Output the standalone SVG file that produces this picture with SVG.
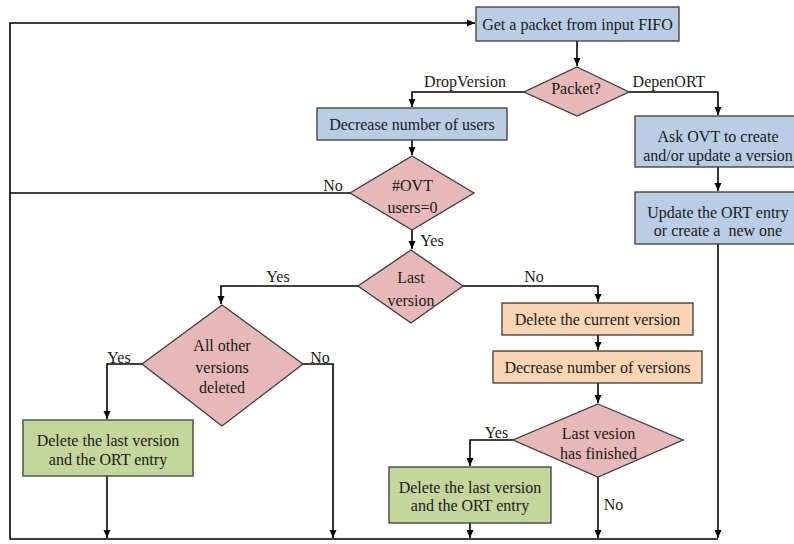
<svg xmlns="http://www.w3.org/2000/svg" width="794" height="544" viewBox="0 0 794 544">
  <style>
    text { font-family: "Liberation Serif", "Times New Roman", serif; font-size: 16px; fill: #1a1a1a; text-anchor: middle; white-space: pre; }
    .box { stroke: #3a3a3a; stroke-width: 1.3; }
    .blue { fill: #b9cde5; }
    .pink { fill: #e6b9b8; }
    .orange { fill: #fcd5b5; }
    .green { fill: #c3d69b; }
    .edge { fill: none; stroke: #000; stroke-width: 1.6; }
    .lbl { fill: #1a1a1a; }
  </style>
  <defs>
    <marker id="arrow" markerUnits="userSpaceOnUse" markerWidth="8" markerHeight="8" refX="8" refY="4" orient="auto">
      <path d="M0,0.5 L8,4 L0,7.5 z" fill="#000"/>
    </marker>
  </defs>
  <rect width="794" height="544" fill="#fff"/>

  <!-- connectors -->
  <g id="connectors">
    <path class="edge" d="M718,539 H10 V23 H475" marker-end="url(#arrow)"/>
    <path class="edge" d="M577,41 V66" marker-end="url(#arrow)"/>
    <path class="edge" d="M524,92 H412 V107" marker-end="url(#arrow)"/>
    <path class="edge" d="M629,92 H718 V115" marker-end="url(#arrow)"/>
    <path class="edge" d="M412,140 V155" marker-end="url(#arrow)"/>
    <path class="edge" d="M350,193 H10"/>
    <path class="edge" d="M412,230 V249" marker-end="url(#arrow)"/>
    <path class="edge" d="M358,286 H221 V304" marker-end="url(#arrow)"/>
    <path class="edge" d="M463,286 H598 V302" marker-end="url(#arrow)"/>
    <path class="edge" d="M142,364 H107 V419" marker-end="url(#arrow)"/>
    <path class="edge" d="M303,364 H333 V538" marker-end="url(#arrow)"/>
    <path class="edge" d="M107,476 V538" marker-end="url(#arrow)"/>
    <path class="edge" d="M598,335 V350" marker-end="url(#arrow)"/>
    <path class="edge" d="M598,383 V403" marker-end="url(#arrow)"/>
    <path class="edge" d="M513,440 H470 V466" marker-end="url(#arrow)"/>
    <path class="edge" d="M598,477 V538" marker-end="url(#arrow)"/>
    <path class="edge" d="M470,523 V538" marker-end="url(#arrow)"/>
    <path class="edge" d="M718,167 V191" marker-end="url(#arrow)"/>
    <path class="edge" d="M718,244 V538" marker-end="url(#arrow)"/>
    <!-- branch labels -->
    <text x="465" y="87">DropVersion</text>
    <text x="669" y="87">DepenORT</text>
    <text x="333" y="191">No</text>
    <text x="432" y="245.5">Yes</text>
    <text x="278" y="281.5">Yes</text>
    <text x="534" y="281.5">No</text>
    <text x="119" y="362.5">Yes</text>
    <text x="320" y="362.5">No</text>
    <text x="496.5" y="437.5">Yes</text>
    <text x="613.5" y="509.5">No</text>
  </g>

  <g id="get-packet">
    <rect class="box blue" x="476" y="7" width="203" height="34"/>
    <text x="577.5" y="29.5">Get a packet from input FIFO</text>
  </g>

  <g id="packet-type">
    <polygon class="box pink" points="577,67 629,92 577,116 524,92"/>
    <text x="576" y="93.5">Packet?</text>
  </g>

  <g id="decrease-users">
    <rect class="box blue" x="317" y="108" width="190" height="32"/>
    <text x="412" y="129.5">Decrease number of users</text>
  </g>

  <g id="ask-ovt">
    <rect class="box blue" x="635" y="116" width="166" height="51"/>
    <text x="718" y="141.5">Ask OVT to create</text>
    <text x="718" y="160.5">and/or update a version</text>
  </g>

  <g id="update-ort">
    <rect class="box blue" x="635" y="192" width="166" height="52"/>
    <text x="718" y="218">Update the ORT entry</text>
    <text x="718" y="236">or create a  new one</text>
  </g>

  <g id="ovt-users">
    <polygon class="box pink" points="412,156 474,193 412,230 350,193"/>
    <text x="412.5" y="190.5">#OVT</text>
    <text x="412.5" y="213">users=0</text>
  </g>

  <g id="last-version">
    <polygon class="box pink" points="411,250 463,286 411,323 358,286"/>
    <text x="411" y="282.5">Last</text>
    <text x="411" y="305.5">version</text>
  </g>

  <g id="all-deleted">
    <polygon class="box pink" points="222,305 303,364 222,426 142,364"/>
    <text x="222" y="350.5">All other</text>
    <text x="222" y="372.5">versions</text>
    <text x="222" y="392.5">deleted</text>
  </g>

  <g id="delete-last-a">
    <rect class="box green" x="23" y="420" width="170" height="56"/>
    <text x="108" y="445.5">Delete the last version</text>
    <text x="108" y="464.5">and the ORT entry</text>
  </g>

  <g id="delete-current">
    <rect class="box orange" x="502" y="303" width="191" height="32"/>
    <text x="597.5" y="325">Delete the current version</text>
  </g>

  <g id="decrease-versions">
    <rect class="box orange" x="493" y="351" width="209" height="32"/>
    <text x="597.5" y="373">Decrease number of versions</text>
  </g>

  <g id="last-finished">
    <polygon class="box pink" points="598,404 683,440 598,477 513,440"/>
    <text x="598.5" y="438.5">Last vesion</text>
    <text x="598.5" y="458.5">has finished</text>
  </g>

  <g id="delete-last-b">
    <rect class="box green" x="389" y="467" width="162" height="56"/>
    <text x="470" y="492.5">Delete the last version</text>
    <text x="470" y="510.5">and the ORT entry</text>
  </g>
</svg>
